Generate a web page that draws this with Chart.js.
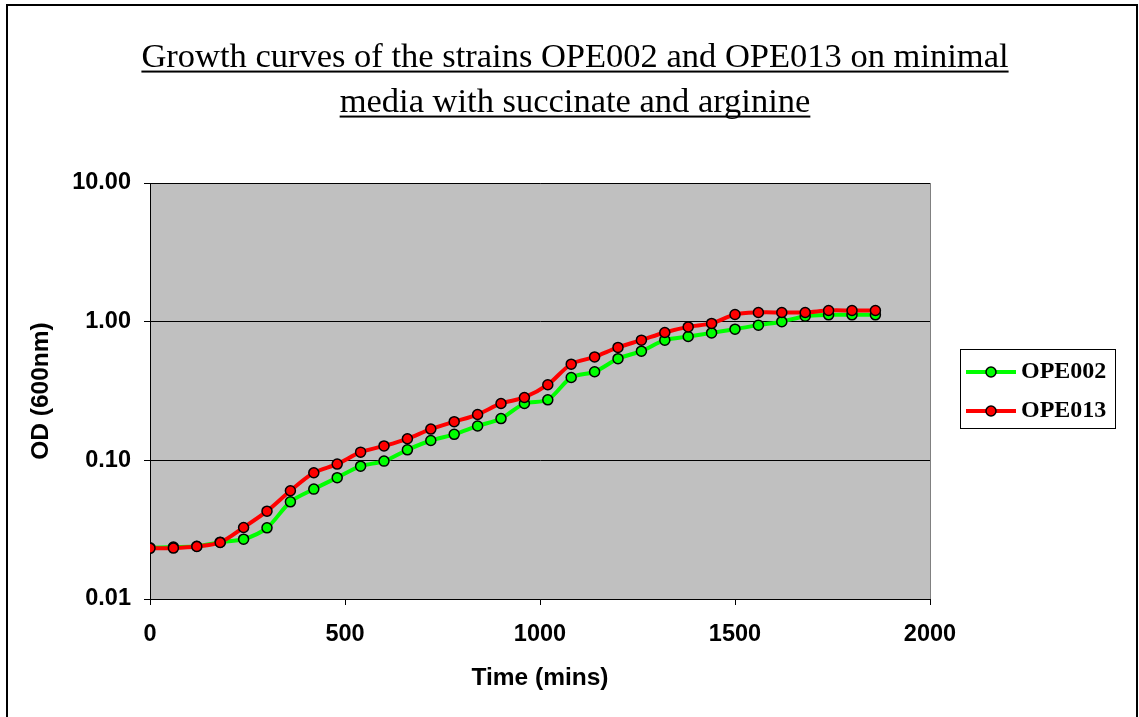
<!DOCTYPE html>
<html>
<head>
<meta charset="utf-8">
<script src="https://cdn.jsdelivr.net/npm/chart.js@4/dist/chart.umd.min.js"></script>
<style>
  html, body { margin: 0; padding: 0; background: #fff; }
  #wrap { width: 1139px; height: 717px; position: relative; }
</style>
</head>
<body>
<div id="wrap"><canvas id="c" width="1139" height="717"></canvas></div>
<script>
// ---- Data ----
const titleLines = ['Growth curves of the strains OPE002 and OPE013 on minimal', 'media with succinate and arginine'];
const xAxisTitle = 'Time (mins)';
const yAxisTitle = 'OD (600nm)';
const timeMins = [0, 60, 120, 180, 240, 300, 360, 420, 480, 540, 600, 660, 720, 780, 840, 900,
                  960, 1020, 1080, 1140, 1200, 1260, 1320, 1380, 1440, 1500, 1560, 1620, 1680, 1740, 1800, 1860];
const ope002 = [0.0234, 0.0237, 0.024, 0.0257, 0.027, 0.0326, 0.0502, 0.062, 0.075, 0.0908, 0.0987, 0.119,
                0.139, 0.154, 0.177, 0.200, 0.257, 0.273, 0.396, 0.435, 0.541, 0.613, 0.736, 0.782,
                0.830, 0.883, 0.944, 1.00, 1.096, 1.12, 1.12, 1.12];
const ope013 = [0.0232, 0.0233, 0.0239, 0.0256, 0.0328, 0.0430, 0.0603, 0.0813, 0.094, 0.1146, 0.127, 0.143,
                0.168, 0.190, 0.214, 0.257, 0.284, 0.351, 0.494, 0.557, 0.652, 0.736, 0.836, 0.917,
                0.971, 1.127, 1.165, 1.165, 1.165, 1.204, 1.204, 1.204];
const seriesNames = ['OPE002', 'OPE013'];
const yTickValues = [0.01, 0.1, 1, 10];
const xTickStep = 500;
const xMin = 0, xMax = 2000;

const GREEN = '#00ff00', RED = '#ff0000';
const SANS = '"Liberation Sans", Arial, Helvetica, sans-serif';
const SERIF = '"Liberation Serif", "Times New Roman", Times, serif';

function legendSymbol(color) {
  const c = document.createElement('canvas');
  c.width = 50; c.height = 14;
  const g = c.getContext('2d');
  g.strokeStyle = color; g.lineWidth = 4;
  g.beginPath(); g.moveTo(0, 7); g.lineTo(50, 7); g.stroke();
  g.beginPath(); g.arc(25, 7, 5, 0, Math.PI * 2);
  g.fillStyle = color; g.fill();
  g.lineWidth = 1.5; g.strokeStyle = '#000'; g.stroke();
  return c;
}
const symbols = { [seriesNames[0]]: legendSymbol(GREEN), [seriesNames[1]]: legendSymbol(RED) };

const LEGEND_W = 209;     // space right of the plot area
const LEGEND_SHIFT_X = 28;
const LEGEND_SHIFT_Y = 33;

const decor = {
  id: 'decor',
  beforeLayout(chart) {
    const lg = chart.legend;
    if (lg && !lg._patched) {
      const f = lg.fit.bind(lg);
      lg.fit = function () { f(); this.width = LEGEND_W; };
      lg._patched = true;
    }
  },
  afterLayout(chart) {
    const lg = chart.legend;
    if (lg) {
      lg.left += LEGEND_SHIFT_X; lg.right += LEGEND_SHIFT_X;
      lg.top += LEGEND_SHIFT_Y; lg.bottom += LEGEND_SHIFT_Y;
    }
  },
  beforeDraw(chart) {
    const ctx = chart.ctx, a = chart.chartArea;
    ctx.save();
    ctx.fillStyle = '#fff';
    ctx.fillRect(0, 0, chart.width, chart.height);
    ctx.strokeStyle = '#000'; ctx.lineWidth = 2;
    ctx.strokeRect(7, 5, chart.width - 9, chart.height + 20);
    ctx.fillStyle = '#c0c0c0';
    ctx.fillRect(a.left, a.top, a.right - a.left, a.bottom - a.top);
    ctx.strokeStyle = '#808080'; ctx.lineWidth = 1;
    ctx.strokeRect(a.left + 0.5, a.top + 0.5, a.right - a.left, a.bottom - a.top);
    ctx.restore();
  },
  afterDraw(chart) {
    const ctx = chart.ctx;
    // title underline
    const tb = chart.titleBlock, to = chart.options.plugins.title;
    const font = Chart.helpers.toFont(to.font);
    const pad = Chart.helpers.toPadding(to.padding);
    ctx.save();
    ctx.font = font.string;
    ctx.textBaseline = 'middle';
    const d = ctx.measureText('x').actualBoundingBoxDescent;
    const cx = (tb.left + tb.right) / 2;
    const lines = Array.isArray(to.text) ? to.text : [to.text];
    lines.forEach((ln, i) => {
      const cy = tb.top + pad.top + font.lineHeight / 2 + i * font.lineHeight;
      const w = ctx.measureText(ln).width;
      ctx.fillStyle = '#000';
      ctx.fillRect(cx - w / 2, cy + d + 4, w, 2);
    });
    // legend border
    const lg = chart.legend;
    if (lg && lg.legendHitBoxes && lg.legendHitBoxes.length) {
      const hb = lg.legendHitBoxes;
      const top = hb[0].top - 11;
      const bot = hb[hb.length - 1].top + hb[hb.length - 1].height + 5;
      ctx.strokeStyle = '#000'; ctx.lineWidth = 1;
      ctx.strokeRect(960.5, Math.round(top) + 0.5, 155, Math.round(bot - top));
    }
    ctx.restore();
  }
};

const mk = (arr) => timeMins.map((t, i) => ({ x: t, y: arr[i] }));

new Chart(document.getElementById('c'), {
  type: 'line',
  data: {
    datasets: [
      { label: seriesNames[1], data: mk(ope013), borderColor: RED, backgroundColor: RED,
        pointBackgroundColor: RED, pointBorderColor: '#000', pointBorderWidth: 1.5, pointRadius: 5,
        borderWidth: 4, tension: 0.3, fill: false },
      { label: seriesNames[0], data: mk(ope002), borderColor: GREEN, backgroundColor: GREEN,
        pointBackgroundColor: GREEN, pointBorderColor: '#000', pointBorderWidth: 1.5, pointRadius: 5,
        borderWidth: 4, tension: 0.3, fill: false }
    ]
  },
  options: {
    responsive: false,
    animation: false,
    devicePixelRatio: 1,
    layout: { padding: { left: 11, right: 0, top: 0, bottom: 0 } },
    plugins: {
      title: {
        display: true, text: titleLines, color: '#000',
        font: { family: SERIF, size: 34.5, weight: 'normal', lineHeight: 45 / 34.5 },
        padding: { top: 35, bottom: 58 }
      },
      legend: {
        display: true, position: 'right', reverse: true,
        labels: {
          usePointStyle: true, pointStyleWidth: 36, boxWidth: 36, boxHeight: 14, padding: 15, color: '#000',
          font: { family: SERIF, size: 24, weight: 'bold' },
          generateLabels(chart) {
            const items = Chart.defaults.plugins.legend.labels.generateLabels(chart);
            items.forEach(it => { it.pointStyle = symbols[it.text]; });
            return items;
          }
        }
      },
      tooltip: { enabled: false }
    },
    scales: {
      x: {
        type: 'linear', min: xMin, max: xMax,
        afterFit(s) { s.height = 118; },
        ticks: { stepSize: xTickStep, color: '#000', padding: 15,
                 font: { family: SANS, size: 23.5, weight: 'bold' },
                 callback: (v) => String(v) },
        grid: { drawOnChartArea: false, drawTicks: true, tickLength: 6, color: '#000' },
        border: { color: '#000' },
        title: { display: true, text: xAxisTitle, color: '#000',
                 font: { family: SANS, size: 24.5, weight: 'bold' }, padding: { top: 0, bottom: 24 } }
      },
      y: {
        type: 'logarithmic', min: 0.01, max: 10,
        afterFit(s) { s.width = 139; },
        afterBuildTicks(s) { s.ticks = yTickValues.map(v => ({ value: v })); },
        ticks: { color: '#000', padding: 13, autoSkip: false,
                 font: { family: SANS, size: 23.5, weight: 'bold' },
                 callback: (v) => Number(v).toFixed(2) },
        grid: { drawOnChartArea: true, drawTicks: true, tickLength: 6, color: '#000' },
        border: { color: '#000' },
        title: { display: true, text: yAxisTitle, color: '#000',
                 font: { family: SANS, size: 24.5, weight: 'bold' }, padding: { top: 16, bottom: 0 } }
      }
    }
  },
  plugins: [decor]
});
</script>
</body>
</html>
